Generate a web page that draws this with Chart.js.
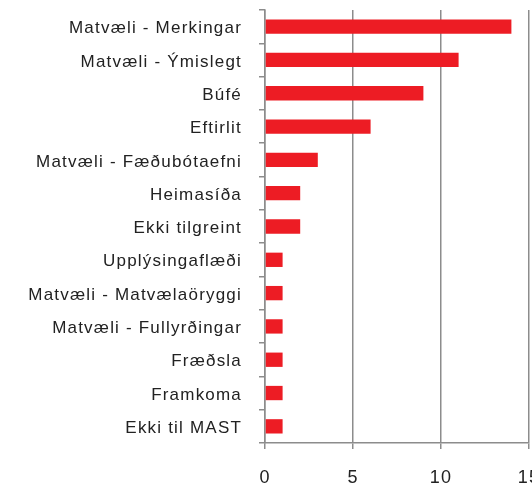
<!DOCTYPE html>
<html>
<head>
<meta charset="utf-8">
<script src="https://cdn.jsdelivr.net/npm/chart.js@4"></script>
<style>
  html, body { margin: 0; padding: 0; background: #fff; overflow: hidden; }
  #wrap { width: 550px; height: 485px; }
</style>
</head>
<body>
<div id="wrap"><canvas id="chart" width="550" height="485"></canvas></div>
<script>
// Categories and counts
const categories = [
    'Matvæli - Merkingar',
    'Matvæli - Ýmislegt',
    'Búfé',
    'Eftirlit',
    'Matvæli - Fæðubótaefni',
    'Heimasíða',
    'Ekki tilgreint',
    'Upplýsingaflæði',
    'Matvæli - Matvælaöryggi',
    'Matvæli - Fullyrðingar',
    'Fræðsla',
    'Framkoma',
    'Ekki til MAST'
];
const counts = [14, 11, 9, 6, 3, 2, 2, 1, 1, 1, 1, 1, 1];
const xTicks = [0, 5, 10, 15];

const axisColor = '#8c8c8c';
const fontFamily = '"Liberation Sans", Arial, sans-serif';

// the original labels are spaced out a bit, so widen the text
const letterSpacingPlugin = {
    id: 'letterSpacing',
    beforeLayout(chart) { chart.ctx.letterSpacing = '1.2px'; },
    beforeDraw(chart) { chart.ctx.letterSpacing = '1.2px'; }
};

const ctx = document.getElementById('chart').getContext('2d');
new Chart(ctx, {
    type: 'bar',
    data: {
        labels: categories,
        datasets: [{
            data: counts,
            backgroundColor: '#ed1c24',
            borderWidth: 0,
            categoryPercentage: 1,
            barPercentage: 0.43
        }]
    },
    options: {
        indexAxis: 'y',
        responsive: false,
        animation: false,
        layout: { padding: { top: 10, right: 21, left: 0, bottom: 0 } },
        plugins: {
            legend: { display: false },
            tooltip: { enabled: false }
        },
        scales: {
            x: {
                min: 0,
                max: 15,
                afterBuildTicks: function(scale) {
                    scale.ticks = xTicks.map(v => ({ value: v }));
                },
                afterFit: function(scale) {
                    // let the last label run off the edge like the original
                    scale.paddingLeft = 0;
                    scale.paddingRight = 0;
                    scale.height = 42;
                },
                ticks: {
                    color: '#222',
                    font: { family: fontFamily, size: 18 },
                    padding: 18,
                    maxRotation: 0
                },
                grid: {
                    color: axisColor,
                    lineWidth: 1.5,
                    tickLength: 6
                },
                border: { color: axisColor, width: 1.5 }
            },
            y: {
                afterFit: function(scale) {
                    scale.width = 265;
                    scale.paddingTop = 0;
                    scale.paddingBottom = 0;
                },
                ticks: {
                    color: '#222',
                    font: { family: fontFamily, size: 17 },
                    padding: 17,
                    labelOffset: 2
                },
                grid: {
                    offset: true,
                    drawOnChartArea: false,
                    color: axisColor,
                    lineWidth: 1.5,
                    tickLength: 6
                },
                border: { color: axisColor, width: 1.5 }
            }
        }
    },
    plugins: [letterSpacingPlugin]
});
</script>
</body>
</html>
